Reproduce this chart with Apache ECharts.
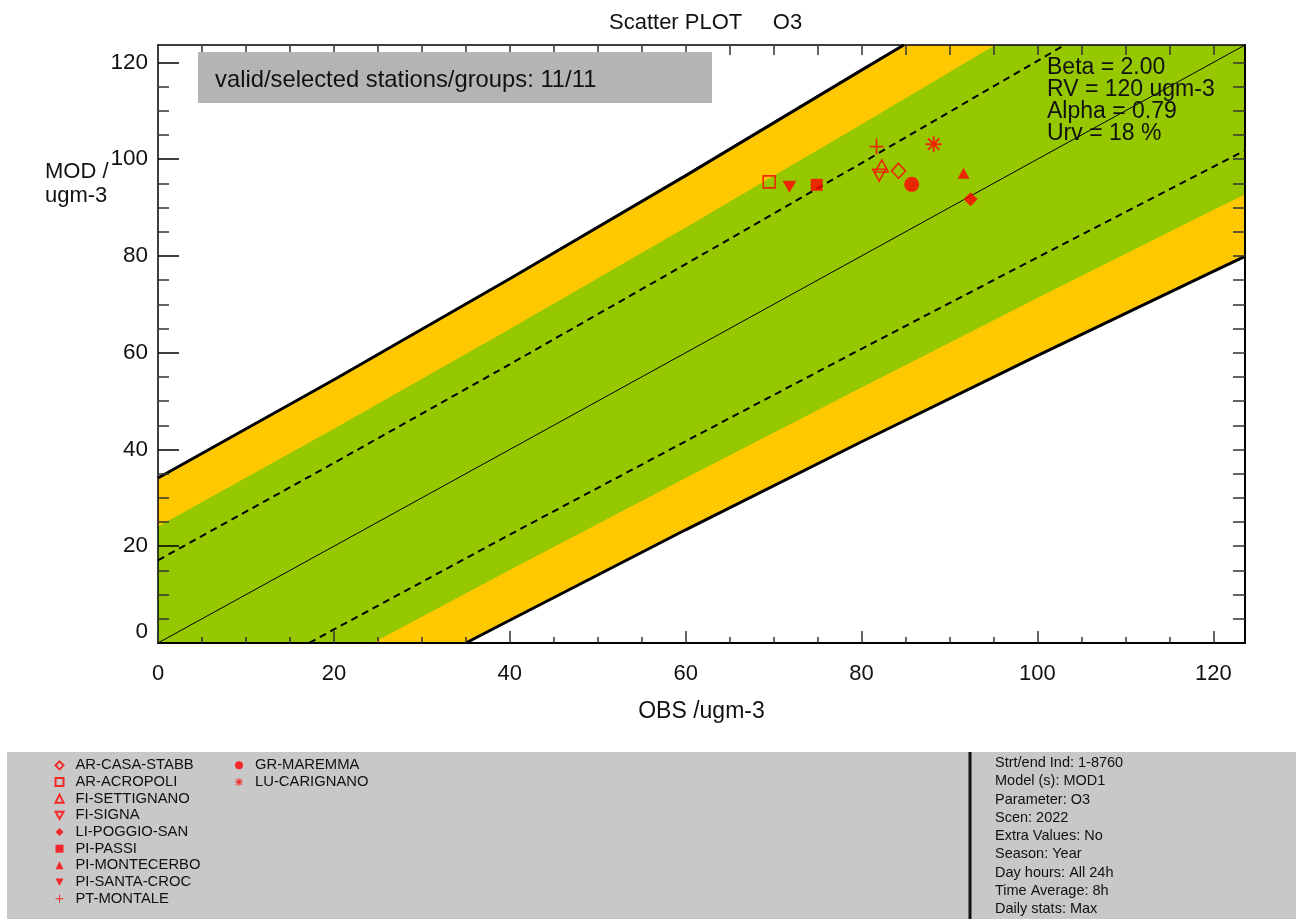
<!DOCTYPE html>
<html>
<head>
<meta charset="utf-8">
<script src="https://cdn.jsdelivr.net/npm/echarts@6/dist/echarts.min.js"></script>
<style>
html,body{margin:0;padding:0;background:#fff;}
#chart{width:1296px;height:923px;}
</style>
</head>
<body>
<div id="chart"></div>
<script>
// ---------- data ----------
const stations = ['AR-CASA-STABB','AR-ACROPOLI','FI-SETTIGNANO','FI-SIGNA','LI-POGGIO-SAN','PI-PASSI','PI-MONTECERBO','PI-SANTA-CROC','PT-MONTALE','GR-MAREMMA','LU-CARIGNANO'];
const obsValues = [84.2, 69.5, 82.3, 82.0, 92.4, 74.9, 91.6, 71.8, 81.7, 85.7, 88.2];
const modValues = [97.6, 95.3, 98.6, 96.7, 91.7, 94.7, 97.1, 94.3, 102.6, 94.8, 103.1];

const axisMax = 123.6;
const majorTicks = [0, 20, 40, 60, 80, 100, 120];

// band boundary lines (OBS, MOD)
const upperOuter = [[0,34.1],[20,54.4],[40,75.3],[60,96.6],[80,118.4],[84.8,123.6]];
const upperGreen = [[0,24.1],[20,44.3],[40,64.9],[60,85.9],[80,107.2],[95.2,123.6]];
const upperDashed = [[0,17.1],[20,37.2],[40,57.6],[60,78.3],[80,99.2],[103.1,123.6]];
const identityLine = [[0,0],[123.6,123.6]];
const lowerDashed = [[17.2,0],[20,2.8],[40,22.4],[60,41.7],[80,60.8],[100,79.7],[123.6,101.8]];
const lowerGreen = [[24.4,0],[40,15.1],[60,34.1],[80,52.8],[100,71.3],[120,89.5],[123.6,92.7]];
const lowerOuter = [[35.0,0],[40,4.7],[60,23.4],[80,41.6],[100,59.4],[120,76.8],[123.6,79.9]];

const statsLines = ['Beta = 2.00','RV = 120 ugm-3','Alpha = 0.79','Urv = 18 %'];
const infoLines = ['Strt/end Ind: 1-8760','Model (s): MOD1','Parameter: O3','Scen: 2022','Extra Values: No','Season: Year','Day hours: All 24h','Time Average: 8h','Daily stats: Max'];

// ---------- styles ----------
const RED = '#ff0000';
const FONT = '"Liberation Sans", Arial, sans-serif';
const TXT = '#111111';
const downTri = 'path://M0,0L10,0L5,9Z';
const plusPath = 'path://M-1.2,-10L1.2,-10L1.2,10L-1.2,10ZM-10,-1.2L10,-1.2L10,1.2L-10,1.2Z';
const starPath = 'path://M-1.2,-10L1.2,-10L1.2,10L-1.2,10ZM-10,-1.2L10,-1.2L10,1.2L-10,1.2ZM-6.22,-7.92L7.92,6.22L6.22,7.92L-7.92,-6.22ZM7.92,-6.22L-6.22,7.92L-7.92,6.22L6.22,-7.92Z';
const markerStyle = {
  'AR-CASA-STABB': {symbol:'diamond', size:[14,15], open:true},
  'AR-ACROPOLI':   {symbol:'rect', size:12, open:true},
  'FI-SETTIGNANO': {symbol:'triangle', size:[13,12], open:true},
  'FI-SIGNA':      {symbol:downTri, size:[13,12], open:true},
  'LI-POGGIO-SAN': {symbol:'diamond', size:[14,14], open:false},
  'PI-PASSI':      {symbol:'rect', size:12, open:false},
  'PI-MONTECERBO': {symbol:'triangle', size:[12,11], open:false},
  'PI-SANTA-CROC': {symbol:downTri, size:[14,12], open:false},
  'PT-MONTALE':    {symbol:plusPath, size:[14,16], open:false},
  'GR-MAREMMA':    {symbol:'circle', size:15, open:false},
  'LU-CARIGNANO':  {symbol:starPath, size:16, open:false}
};

const minorTicks = [];
for (let v = 5; v < axisMax; v += 5) if (v % 20 !== 0) minorTicks.push(v);
const allFive = [];
for (let v = 5; v < axisMax; v += 5) allFive.push(v);

// ---------- series ----------
const series = [];
series.push({
  type: 'custom', name: 'bands', silent: true, z: 1,
  data: [[0,0]],
  renderItem: function (params, api) {
    const poly = (upper, lower) => {
      const pts = [];
      upper.forEach(p => pts.push(api.coord(p)));
      pts.push(api.coord([axisMax, axisMax]));
      lower.slice().reverse().forEach(p => pts.push(api.coord(p)));
      pts.push(api.coord([0, 0]));
      return pts;
    };
    return {
      type: 'group',
      children: [
        {type:'polygon', shape:{points: poly(upperOuter, lowerOuter)}, style:{fill:'#ffc800'}},
        {type:'polygon', shape:{points: poly(upperGreen, lowerGreen)}, style:{fill:'#96c800'}}
      ]
    };
  }
});
const lineSeries = (data, width, type) => ({
  type: 'line', data: data, symbol: 'none', silent: true, z: 2,
  lineStyle: {color: '#000', width: width, type: type}
});
series.push(lineSeries(upperOuter, 3, 'solid'));
series.push(lineSeries(lowerOuter, 3, 'solid'));
series.push(lineSeries(upperDashed, 2, [7, 5]));
series.push(lineSeries(lowerDashed, 2, [7, 5]));
series.push(lineSeries(identityLine, 1, 'solid'));

stations.forEach((name, i) => {
  const st = markerStyle[name];
  series.push({
    type: 'scatter', name: name, z: 5,
    data: [[obsValues[i], modValues[i]]],
    symbol: st.symbol, symbolSize: st.size, symbolKeepAspect: false,
    itemStyle: st.open
      ? {color: 'rgba(0,0,0,0)', borderColor: RED, borderWidth: 1.6}
      : {color: RED},
    emphasis: {disabled: true}
  });
});

const legendCommon = {
  orient: 'vertical', itemWidth: 8, itemHeight: 8, itemGap: 0,
  selectedMode: false,
  textStyle: {fontFamily: FONT, fontSize: 14.8, color: TXT, lineHeight: 16.67, padding: [0,0,0,7]}
};

const option = {
  animation: false,
  backgroundColor: '#fff',
  title: {
    text: 'Scatter PLOT     O3', left: 604, top: 7,
    textStyle: {fontFamily: FONT, fontSize: 22, fontWeight: 'normal', color: TXT}
  },
  grid: {left: 158, top: 45, width: 1087, height: 598, containLabel: false},
  legend: [
    Object.assign({}, legendCommon, {data: stations.slice(0, 9), left: 49.5, top: 752}),
    Object.assign({}, legendCommon, {data: stations.slice(9), left: 230, top: 752})
  ],
  xAxis: [
    {type:'value', min:0, max:axisMax, position:'bottom', z: 10,
     axisLine:{show:true, onZero:false, lineStyle:{color:'#000', width:2}},
     axisTick:{show:true, inside:true, length:12, customValues: majorTicks, lineStyle:{color:'#333', width:1.5}},
     axisLabel:{customValues: majorTicks, fontFamily: FONT, fontSize:22, color:TXT, margin:20},
     splitLine:{show:false},
     name:'OBS /ugm-3', nameLocation:'middle', nameGap:57,
     nameTextStyle:{fontFamily: FONT, fontSize:23, color:TXT}},
    {type:'value', min:0, max:axisMax, position:'bottom', z: 10,
     axisLine:{show:false, onZero:false},
     axisTick:{show:true, inside:true, length:6, customValues: minorTicks, lineStyle:{color:'#333', width:1.5}},
     axisLabel:{show:false}, splitLine:{show:false}},
    {type:'value', min:0, max:axisMax, position:'top', z: 10,
     axisLine:{show:true, onZero:false, lineStyle:{color:'#000', width:1.5}},
     axisTick:{show:true, inside:true, length:10, customValues: allFive, lineStyle:{color:'#333', width:1.5}},
     axisLabel:{show:false}, splitLine:{show:false}}
  ],
  yAxis: [
    {type:'value', min:0, max:axisMax, position:'left', z: 10,
     axisLine:{show:true, onZero:false, lineStyle:{color:'#000', width:1.5}},
     axisTick:{show:true, inside:true, length:21, customValues: majorTicks, lineStyle:{color:'#000', width:1.5}},
     axisLabel:{customValues: majorTicks, fontFamily: FONT, fontSize:22.5, color:TXT, margin:10, verticalAlignMinLabel:'bottom'},
     splitLine:{show:false}},
    {type:'value', min:0, max:axisMax, position:'left', z: 10,
     axisLine:{show:false, onZero:false},
     axisTick:{show:true, inside:true, length:11, customValues: minorTicks, lineStyle:{color:'#333', width:1.5}},
     axisLabel:{show:false}, splitLine:{show:false}},
    {type:'value', min:0, max:axisMax, position:'right', z: 10,
     axisLine:{show:true, onZero:false, lineStyle:{color:'#000', width:2}},
     axisTick:{show:true, inside:true, length:12, customValues: allFive, lineStyle:{color:'#333', width:1.5}},
     axisLabel:{show:false}, splitLine:{show:false}}
  ],
  series: series,
  graphic: [
    {type:'rect', z: 20, shape:{x:198, y:52, width:514, height:51}, style:{fill:'#b4b4b4'}},
    {type:'text', z: 21, x:215, y:80, style:{text:'valid/selected stations/groups: 11/11', font:'23.8px ' + FONT, fill:TXT, verticalAlign:'middle'}},
    ...statsLines.map((t, i) => ({type:'text', z: 21, x:1047, y:68 + i * 22, style:{text:t, font:'23px ' + FONT, fill:TXT, verticalAlign:'middle'}})),
    {type:'text', z: 21, x:45, y:172, style:{text:'MOD /', font:'22px ' + FONT, fill:TXT, verticalAlign:'middle'}},
    {type:'text', z: 21, x:45, y:196, style:{text:'ugm-3', font:'22px ' + FONT, fill:TXT, verticalAlign:'middle'}},
    {type:'rect', z: -10, shape:{x:7, y:752, width:1289, height:167}, style:{fill:'#c8c8c8'}},
    {type:'rect', z: -9, shape:{x:968.5, y:752, width:3, height:167}, style:{fill:'#111'}},
    ...infoLines.map((t, i) => ({type:'text', z: 21, x:995, y:763 + i * 18.25, style:{text:t, font:'14.5px ' + FONT, fill:TXT, verticalAlign:'middle'}}))
  ]
};

const chart = echarts.init(document.getElementById('chart'), null, {renderer: 'canvas'});
chart.setOption(option);
</script>
</body>
</html>
